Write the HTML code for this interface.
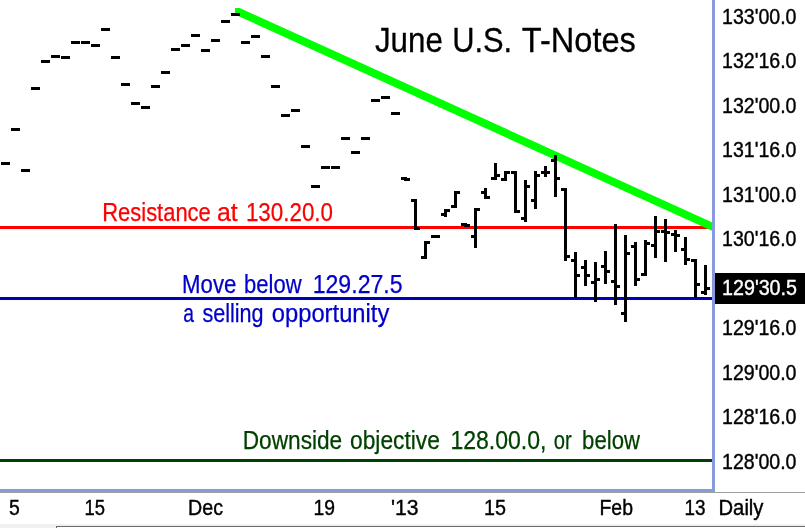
<!DOCTYPE html>
<html lang="en">
<head>
<meta charset="utf-8">
<title>June U.S. T-Notes</title>
<style>
html,body{margin:0;padding:0;background:#fff;}
body{width:805px;height:528px;overflow:hidden;font-family:"Liberation Sans",sans-serif;}
svg{display:block;}
text{font-family:"Liberation Sans",sans-serif;}
</style>
</head>
<body>
<svg width="805" height="528" viewBox="0 0 805 528">
<rect x="0" y="0" width="805" height="528" fill="#ffffff"/>
<!-- horizontal study lines -->
<g shape-rendering="crispEdges">
<rect x="0" y="226" width="712" height="3" fill="#ff0000"/>
<rect x="0" y="297" width="712" height="3" fill="#0000b4"/>
<rect x="0" y="459" width="712" height="3" fill="#004000"/>
</g>
<!-- trend line -->
<clipPath id="tl"><rect x="235" y="8" width="478" height="230"/></clipPath>
<line x1="225" y1="5.70" x2="725" y2="232.47" stroke="#00ff00" stroke-width="7.9" stroke-linecap="butt" clip-path="url(#tl)"/>
<!-- price bars -->
<g fill="#000000" shape-rendering="crispEdges">
<rect x="1" y="162" width="9" height="3"/>
<rect x="11" y="128" width="9" height="3"/>
<rect x="21" y="169" width="9" height="3"/>
<rect x="31" y="87" width="9" height="3"/>
<rect x="41" y="60" width="9" height="3"/>
<rect x="51" y="55" width="9" height="3"/>
<rect x="61" y="56" width="9" height="3"/>
<rect x="71" y="41" width="9" height="3"/>
<rect x="81" y="41" width="9" height="3"/>
<rect x="91" y="44" width="9" height="3"/>
<rect x="101" y="28" width="9" height="3"/>
<rect x="111" y="56" width="9" height="3"/>
<rect x="121" y="83" width="9" height="3"/>
<rect x="131" y="102" width="9" height="3"/>
<rect x="141" y="106" width="9" height="3"/>
<rect x="151" y="85" width="9" height="3"/>
<rect x="161" y="71" width="9" height="3"/>
<rect x="171" y="48" width="9" height="3"/>
<rect x="181" y="44" width="9" height="3"/>
<rect x="191" y="34" width="9" height="3"/>
<rect x="201" y="49" width="9" height="3"/>
<rect x="211" y="39" width="9" height="3"/>
<rect x="221" y="20" width="9" height="3"/>
<rect x="231" y="13" width="9" height="3"/>
<rect x="241" y="41" width="9" height="3"/>
<rect x="251" y="35" width="9" height="3"/>
<rect x="261" y="55" width="9" height="3"/>
<rect x="271" y="85" width="9" height="3"/>
<rect x="281" y="114" width="9" height="3"/>
<rect x="291" y="109" width="9" height="3"/>
<rect x="301" y="145" width="9" height="3"/>
<rect x="311" y="185" width="9" height="3"/>
<rect x="321" y="166" width="9" height="3"/>
<rect x="331" y="166" width="9" height="3"/>
<rect x="341" y="137" width="9" height="3"/>
<rect x="351" y="151" width="9" height="3"/>
<rect x="361" y="137" width="9" height="3"/>
<rect x="371" y="99" width="9" height="3"/>
<rect x="381" y="96" width="9" height="3"/>
<rect x="391" y="112" width="9" height="3"/>
<rect x="431" y="235" width="9" height="3"/>
<rect x="404" y="177" width="3" height="4"/><rect x="401" y="177" width="6" height="3"/><rect x="404" y="178" width="6" height="3"/>
<rect x="414" y="199" width="3" height="31"/><rect x="411" y="199" width="6" height="3"/><rect x="414" y="227" width="6" height="3"/>
<rect x="424" y="241" width="3" height="18"/><rect x="421" y="256" width="6" height="3"/><rect x="424" y="241" width="6" height="3"/>
<rect x="444" y="209" width="3" height="8"/><rect x="441" y="213" width="6" height="3"/><rect x="444" y="209" width="6" height="3"/>
<rect x="454" y="191" width="3" height="17"/><rect x="451" y="205" width="6" height="3"/><rect x="454" y="191" width="6" height="3"/>
<rect x="464" y="223" width="3" height="4"/><rect x="461" y="223" width="6" height="3"/><rect x="464" y="224" width="6" height="3"/>
<rect x="474" y="208" width="3" height="40"/><rect x="471" y="235" width="6" height="3"/><rect x="474" y="208" width="6" height="3"/>
<rect x="484" y="188" width="3" height="11"/><rect x="481" y="191" width="6" height="3"/><rect x="484" y="196" width="6" height="3"/>
<rect x="494" y="163" width="3" height="17"/><rect x="491" y="177" width="6" height="3"/><rect x="494" y="174" width="6" height="3"/>
<rect x="504" y="171" width="3" height="10"/><rect x="501" y="178" width="6" height="3"/><rect x="504" y="171" width="6" height="3"/>
<rect x="514" y="171" width="3" height="42"/><rect x="511" y="171" width="6" height="3"/><rect x="514" y="210" width="6" height="3"/>
<rect x="524" y="180" width="3" height="42"/><rect x="521" y="217" width="6" height="3"/><rect x="524" y="185" width="6" height="3"/>
<rect x="534" y="171" width="3" height="38"/><rect x="531" y="199" width="6" height="3"/><rect x="534" y="174" width="6" height="3"/>
<rect x="544" y="166" width="3" height="11"/><rect x="541" y="171" width="6" height="3"/><rect x="544" y="171" width="6" height="3"/>
<rect x="554" y="155" width="3" height="42"/><rect x="551" y="159" width="6" height="3"/><rect x="554" y="177" width="6" height="3"/>
<rect x="564" y="188" width="3" height="73"/><rect x="561" y="188" width="6" height="3"/><rect x="564" y="255" width="6" height="3"/>
<rect x="574" y="252" width="3" height="46"/><rect x="571" y="259" width="6" height="3"/><rect x="574" y="274" width="6" height="3"/>
<rect x="584" y="260" width="3" height="26"/><rect x="581" y="266" width="6" height="3"/><rect x="584" y="274" width="6" height="3"/>
<rect x="594" y="262" width="3" height="40"/><rect x="591" y="281" width="6" height="3"/><rect x="594" y="278" width="6" height="3"/>
<rect x="604" y="251" width="3" height="33"/><rect x="601" y="265" width="6" height="3"/><rect x="604" y="270" width="6" height="3"/>
<rect x="614" y="224" width="3" height="81"/><rect x="611" y="280" width="6" height="3"/><rect x="614" y="285" width="6" height="3"/>
<rect x="624" y="235" width="3" height="87"/><rect x="621" y="312" width="6" height="3"/><rect x="624" y="252" width="6" height="3"/>
<rect x="634" y="242" width="3" height="44"/><rect x="631" y="245" width="6" height="3"/><rect x="634" y="278" width="6" height="3"/>
<rect x="644" y="240" width="3" height="36"/><rect x="641" y="273" width="6" height="3"/><rect x="644" y="242" width="6" height="3"/>
<rect x="654" y="216" width="3" height="42"/><rect x="651" y="244" width="6" height="3"/><rect x="654" y="230" width="6" height="3"/>
<rect x="664" y="219" width="3" height="43"/><rect x="661" y="230" width="6" height="3"/><rect x="664" y="231" width="6" height="3"/>
<rect x="674" y="230" width="3" height="22"/><rect x="671" y="233" width="6" height="3"/><rect x="674" y="234" width="6" height="3"/>
<rect x="684" y="237" width="3" height="28"/><rect x="681" y="248" width="6" height="3"/><rect x="684" y="258" width="6" height="3"/>
<rect x="694" y="259" width="3" height="39"/><rect x="691" y="259" width="6" height="3"/><rect x="694" y="283" width="6" height="3"/>
<rect x="704" y="265" width="3" height="30"/><rect x="701" y="291" width="6" height="3"/><rect x="704" y="287" width="6" height="3"/>
</g>
<!-- axes -->
<g shape-rendering="crispEdges">
<rect x="0" y="492" width="805" height="1" fill="#a0a0a0"/>
<rect x="712" y="0" width="3" height="492" fill="#869ade"/>
<rect x="0" y="489" width="715" height="3" fill="#869ade"/>
<rect x="0" y="524" width="805" height="4" fill="#f0f0f0"/>
<rect x="56" y="526" width="749" height="1" fill="#696969"/>
<rect x="56" y="526" width="1" height="2" fill="#696969"/>
<rect x="57" y="527" width="748" height="1" fill="#ffffff"/>
<rect x="715" y="273" width="90" height="31" fill="#000000"/>
</g>
<!-- annotations -->
<text y="51.8" font-size="35.0" fill="#000000" stroke="#000000" stroke-width="0.3" xml:space="preserve"><tspan x="374.90" textLength="67.91" lengthAdjust="spacingAndGlyphs">June</tspan> <tspan x="452.24" textLength="59.96" lengthAdjust="spacingAndGlyphs">U.S.</tspan> <tspan x="521.80" textLength="114.07" lengthAdjust="spacingAndGlyphs">T-Notes</tspan></text>
<text y="221.0" font-size="25.0" fill="#ff0000" stroke="#ff0000" stroke-width="0.25" xml:space="preserve"><tspan x="102.24" textLength="108.55" lengthAdjust="spacingAndGlyphs">Resistance</tspan> <tspan x="217.01" textLength="20.74" lengthAdjust="spacingAndGlyphs">at</tspan> <tspan x="245.90" textLength="87.10" lengthAdjust="spacingAndGlyphs">130.20.0</tspan></text>
<text y="293.0" font-size="25.0" fill="#0000c8" stroke="#0000c8" stroke-width="0.25" xml:space="preserve"><tspan x="182.12" textLength="54.28" lengthAdjust="spacingAndGlyphs">Move</tspan> <tspan x="244.12" textLength="57.55" lengthAdjust="spacingAndGlyphs">below</tspan> <tspan x="312.68" textLength="89.96" lengthAdjust="spacingAndGlyphs">129.27.5</tspan></text>
<text y="321.5" font-size="25.0" fill="#0000c8" stroke="#0000c8" stroke-width="0.25" xml:space="preserve"><tspan x="183.13" textLength="10.70" lengthAdjust="spacingAndGlyphs">a</tspan> <tspan x="202.40" textLength="61.18" lengthAdjust="spacingAndGlyphs">selling</tspan> <tspan x="271.75" textLength="117.58" lengthAdjust="spacingAndGlyphs">opportunity</tspan></text>
<text y="449.3" font-size="25.0" fill="#004000" stroke="#004000" stroke-width="0.25" xml:space="preserve"><tspan x="242.69" textLength="99.53" lengthAdjust="spacingAndGlyphs">Downside</tspan> <tspan x="350.09" textLength="89.73" lengthAdjust="spacingAndGlyphs">objective</tspan> <tspan x="450.38" textLength="96.12" lengthAdjust="spacingAndGlyphs">128.00.0,</tspan> <tspan x="553.79" textLength="17.97" lengthAdjust="spacingAndGlyphs">or</tspan> <tspan x="582.11" textLength="57.85" lengthAdjust="spacingAndGlyphs">below</tspan></text>
<!-- price scale -->
<g font-size="21.5" fill="#000000" stroke="#000000" stroke-width="0.4">
<text x="722" y="23.9" textLength="74.5" lengthAdjust="spacingAndGlyphs">133'00.0</text>
<text x="722" y="68.4" textLength="74.5" lengthAdjust="spacingAndGlyphs">132'16.0</text>
<text x="722" y="112.9" textLength="74.5" lengthAdjust="spacingAndGlyphs">132'00.0</text>
<text x="722" y="157.4" textLength="74.5" lengthAdjust="spacingAndGlyphs">131'16.0</text>
<text x="722" y="201.9" textLength="74.5" lengthAdjust="spacingAndGlyphs">131'00.0</text>
<text x="722" y="246.4" textLength="74.5" lengthAdjust="spacingAndGlyphs">130'16.0</text>
<text x="722" y="335.4" textLength="74.5" lengthAdjust="spacingAndGlyphs">129'16.0</text>
<text x="722" y="379.9" textLength="74.5" lengthAdjust="spacingAndGlyphs">129'00.0</text>
<text x="722" y="424.4" textLength="74.5" lengthAdjust="spacingAndGlyphs">128'16.0</text>
<text x="722" y="468.9" textLength="74.5" lengthAdjust="spacingAndGlyphs">128'00.0</text>
</g>
<text x="722" y="294.8" font-size="21.5" fill="#ffffff" stroke="#ffffff" stroke-width="0.4" textLength="75" lengthAdjust="spacingAndGlyphs">129'30.5</text>
<!-- time scale -->
<g font-size="21.5" fill="#000000" stroke="#000000" stroke-width="0.4">
<text x="9" y="515" textLength="10.8" lengthAdjust="spacingAndGlyphs">5</text>
<text x="84.5" y="515" textLength="20.5" lengthAdjust="spacingAndGlyphs">15</text>
<text x="188" y="515" textLength="35" lengthAdjust="spacingAndGlyphs">Dec</text>
<text x="313.5" y="515" textLength="21.5" lengthAdjust="spacingAndGlyphs">19</text>
<text x="391" y="515" textLength="27.5" lengthAdjust="spacingAndGlyphs">'13</text>
<text x="484" y="515" textLength="22" lengthAdjust="spacingAndGlyphs">15</text>
<text x="599.5" y="515" textLength="33.5" lengthAdjust="spacingAndGlyphs">Feb</text>
<text x="684.5" y="515" textLength="21" lengthAdjust="spacingAndGlyphs">13</text>
<text x="718.5" y="515" textLength="45" lengthAdjust="spacingAndGlyphs">Daily</text>
</g>
</svg>
</body>
</html>
